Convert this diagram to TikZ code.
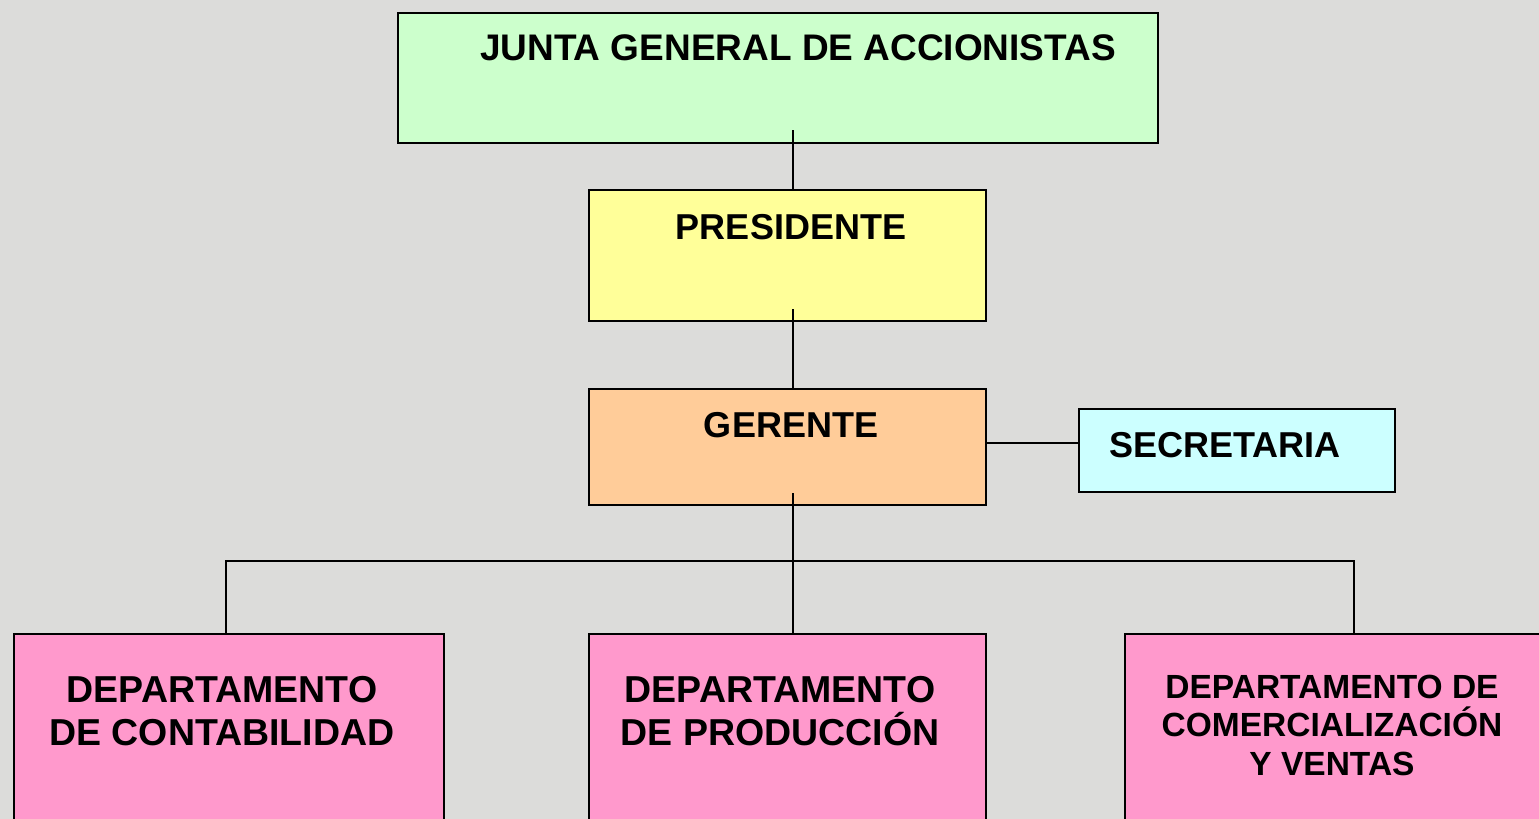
\documentclass[tikz,border=0pt]{standalone}
\usepackage{fontspec}
\setmainfont{Liberation Sans}
\definecolor{bggray}{RGB}{220,220,218}
\definecolor{cjunta}{RGB}{204,255,204}
\definecolor{cpres}{RGB}{255,255,153}
\definecolor{cger}{RGB}{255,204,153}
\definecolor{csec}{RGB}{204,255,255}
\definecolor{cdep}{RGB}{255,153,204}
\begin{document}
\begin{tikzpicture}[x=1pt,y=-1pt,
  box/.style={draw=black,line width=2.6pt,inner sep=0pt,anchor=north west},
  lbl/.style={inner sep=0pt,anchor=base,align=center,font=\bfseries\fontsize{36}{43}\selectfont},
  dlbl/.style={lbl,font=\bfseries\fontsize{37.5}{43}\selectfont},
  conn/.style={draw=black,line width=2pt}]
\clip (0,0) rectangle (1539,819);
\fill[bggray] (0,0) rectangle (1539,819);
% boxes
\node[box,fill=cjunta,minimum width=760pt,minimum height=130pt] (junta) at (396.5,11.5) {};
\node[box,fill=cpres,minimum width=397pt,minimum height=131pt] (pres) at (587.5,188.5) {};
\node[box,fill=cger,minimum width=397pt,minimum height=116pt] (ger) at (587.5,387.5) {};
\node[box,fill=csec,minimum width=316pt,minimum height=83pt] (sec) at (1077.5,407.5) {};
\node[box,fill=cdep,minimum width=430pt,minimum height=260pt] (cont) at (12.5,632.5) {};
\node[box,fill=cdep,minimum width=397pt,minimum height=260pt] (prod) at (587.5,632.5) {};
\node[box,fill=cdep,minimum width=430pt,minimum height=260pt] (come) at (1123.5,632.5) {};
% labels
\node[lbl,font=\bfseries\fontsize{37}{43}\selectfont] (tjunta) at (798,60) {JUNTA GENERAL DE ACCIONISTAS};
\node[lbl] (tpres) at (791,239) {PRESIDENTE};
\node[lbl] (tger) at (791,437) {GERENTE};
\node[lbl] (tsec) at (1225,457) {SECRETARIA};
\node[dlbl] (tcont) at (222,745) {DEPARTAMENTO\\DE CONTABILIDAD};
\node[dlbl] (tprod) at (780,745) {DEPARTAMENTO\\DE PRODUCCIÓN};
\node[lbl,font=\bfseries\fontsize{33.5}{38.5}\selectfont] (tcome) at (1332,775) {DEPARTAMENTO DE\\COMERCIALIZACIÓN\\Y VENTAS};
% connectors
\coordinate (sp) at (793,0);
\coordinate (bus) at (0,561);
\coordinate (sl) at (0,443);
\draw[conn] ([yshift=14pt]junta.south -| sp) -- (pres.north -| sp);
\draw[conn] ([yshift=13pt]pres.south -| sp) -- (ger.north -| sp);
\draw[conn] (ger.east |- sl) -- (sec.west |- sl);
\draw[conn] ([yshift=13pt]ger.south -| sp) -- (prod.north -| sp);
\draw[conn] (cont.north -| 226,0) -- (bus -| 226,0) -- (bus -| 1354,0) -- (come.north -| 1354,0);
\end{tikzpicture}
\end{document}
